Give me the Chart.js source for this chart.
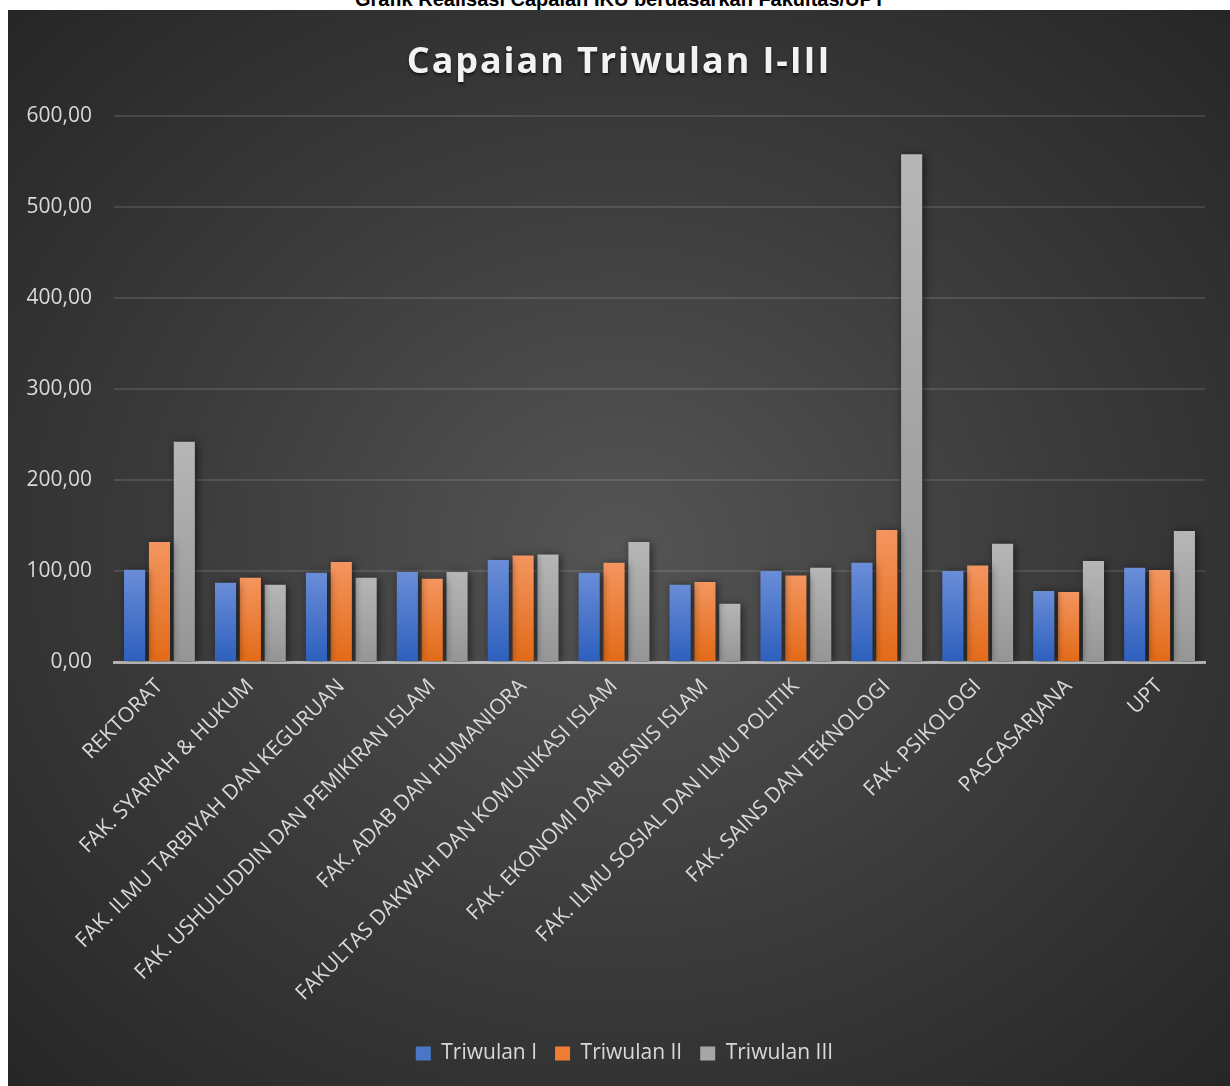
<!DOCTYPE html>
<html>
<head>
<meta charset="utf-8">
<script src="https://cdn.jsdelivr.net/npm/chart.js@4.4.1/dist/chart.umd.min.js"></script>
<style>
  body { margin: 0; background: #fff; width: 1230px; height: 1086px; position: relative; overflow: hidden; }
  #header {
    position: absolute; top: -11px; left: 0; width: 1240px; text-align: center;
    font: bold 20px "Liberation Sans", Arial, sans-serif; color: #000; line-height: 20px;
  }
  #box {
    position: absolute; left: 8px; top: 10px; width: 1222px; height: 1076px;
    background: radial-gradient(ellipse farthest-corner at 50% 50%, #555555 0%, #3c3c3c 50%, #262626 100%);
  }
  #title {
    position: absolute; left: 0; top: 25px; width: 100%; text-align: center;
    font: bold 36px "Open Sans", sans-serif; letter-spacing: 1.9px; color: #f2f2f2;
    text-shadow: 0 2px 3px rgba(0,0,0,0.6);
  }
</style>
</head>
<body>
<div id="header">Grafik Realisasi Capaian IKU berdasarkan Fakultas/UPT</div>
<div id="box">
  <div id="title">Capaian Triwulan I-III</div>
  <canvas id="barChart"></canvas>
</div>
<script>
const units = [
    "REKTORAT",
    "FAK. SYARIAH & HUKUM",
    "FAK. ILMU TARBIYAH DAN KEGURUAN",
    "FAK. USHULUDDIN DAN PEMIKIRAN ISLAM",
    "FAK. ADAB DAN HUMANIORA",
    "FAKULTAS DAKWAH DAN KOMUNIKASI ISLAM",
    "FAK. EKONOMI DAN BISNIS ISLAM",
    "FAK. ILMU SOSIAL DAN ILMU POLITIK",
    "FAK. SAINS DAN TEKNOLOGI",
    "FAK. PSIKOLOGI",
    "PASCASARJANA",
    "UPT"
];
const triwulan1 = [101.3, 87, 98, 99, 112, 98, 85, 100, 109, 100, 78, 103.5];
const triwulan2 = [132, 92.5, 110, 91.4, 117, 109, 88, 95, 145, 106, 77, 101];
const triwulan3 = [242, 85, 92.5, 99, 118, 132, 64, 103.5, 558, 130, 111, 144];
const yTicks = [0, 100, 200, 300, 400, 500, 600];

// gradient per bar, lighter at the top like the Office style
function barFill(top, bottom) {
    return (ctx) => {
        const chart = ctx.chart;
        if (!chart.chartArea || ctx.type !== 'data') return bottom;
        const y = chart.scales.y;
        const g = chart.ctx.createLinearGradient(0, y.getPixelForValue(ctx.raw), 0, y.getPixelForValue(0));
        g.addColorStop(0, top);
        g.addColorStop(1, bottom);
        return g;
    };
}

const legendColors = ["#4a76c8", "#ee7d33", "#a6a6a6"];

const barShadow = {
    id: 'barShadow',
    beforeDatasetsDraw(chart) {
        const c = chart.ctx;
        c.save();
        c.shadowColor = 'rgba(0,0,0,0.55)';
        c.shadowBlur = 8;
        c.shadowOffsetX = 2;
        c.shadowOffsetY = 1;
    },
    afterDatasetsDraw(chart) {
        chart.ctx.restore();
    }
};

// legend sits a little right of the canvas centre in the original
const legendShift = {
    id: 'legendShift',
    afterLayout(chart) {
        chart.legend.left += 18;
        chart.legend.right += 18;
    }
};

const tickColor = "#d9d9d9";
const tickFont = { family: "'Open Sans', sans-serif", size: 21 };

new Chart(document.getElementById("barChart").getContext("2d"), {
    type: 'bar',
    data: {
        labels: units,
        datasets: [
            { label: "Triwulan I", data: triwulan1, backgroundColor: barFill("#6a8dd7", "#2d5fbd") },
            { label: "Triwulan II", data: triwulan2, backgroundColor: barFill("#f4955f", "#e26a17") },
            { label: "Triwulan III", data: triwulan3, backgroundColor: barFill("#b6b6b6", "#959595") }
        ]
    },
    plugins: [barShadow, legendShift],
    options: {
        responsive: true,
        maintainAspectRatio: false,
        animation: false,
        categoryPercentage: 0.82,
        barPercentage: 0.85,
        layout: { padding: { top: 106, right: 25, bottom: 12, left: 0 } },
        plugins: {
            title: { display: false },
            tooltip: { enabled: false },
            legend: {
                display: true,
                position: 'bottom',
                labels: {
                    color: tickColor,
                    font: tickFont,
                    boxWidth: 15,
                    boxHeight: 14,
                    padding: 18,
                    generateLabels(chart) {
                        const items = Chart.defaults.plugins.legend.labels.generateLabels(chart);
                        items.forEach((it, i) => {
                            it.fillStyle = legendColors[i];
                            it.strokeStyle = legendColors[i];
                            it.lineWidth = 0;
                        });
                        return items;
                    }
                }
            }
        },
        scales: {
            x: {
                z: 1,
                grid: { display: false, drawTicks: false },
                border: { display: true, color: "rgba(225,225,225,0.7)", width: 3 },
                ticks: {
                    color: tickColor,
                    font: tickFont,
                    minRotation: 45,
                    maxRotation: 45,
                    padding: 12,
                    autoSkip: false
                },
                afterFit(scale) { scale.height = 363; }
            },
            y: {
                min: 0,
                max: 600,
                afterBuildTicks(scale) { scale.ticks = yTicks.map(v => ({ value: v })); },
                grid: { color: "rgba(200,200,200,0.16)", lineWidth: 2, drawTicks: false },
                border: { display: false },
                ticks: {
                    color: tickColor,
                    font: tickFont,
                    padding: 22,
                    callback: v => v.toFixed(2).replace('.', ',')
                },
                afterFit(scale) { scale.width = 106; }
            }
        }
    }
});
</script>
</body>
</html>
